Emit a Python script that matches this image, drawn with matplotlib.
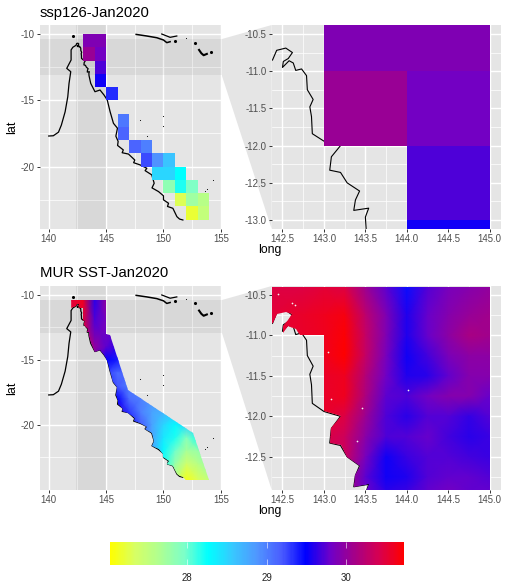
import numpy as np
import matplotlib
matplotlib.use('Agg')
import matplotlib.pyplot as plt
from matplotlib.colors import LinearSegmentedColormap, Normalize
from matplotlib.patches import Polygon
from matplotlib.ticker import FixedLocator

plt.rcParams['font.family'] = ['Liberation Sans', 'DejaVu Sans']

# coastline
coast_long = [140.0,140.4,140.85,141.1,141.43,141.66,141.77,141.92,141.57,141.95,141.95,142.1,142.38,
              142.43,142.54,142.62,142.57,142.51,142.5,142.58,142.63,142.66,142.73,142.79,142.8,142.87,
              142.83,142.85,142.86,143.0,143.2,143.09,143.07,143.2,143.28,143.43,143.38,143.36,143.54,
              143.5,143.51,143.66,144.03,144.47,144.82,145.1,145.35,145.64,145.99,145.85,146.05,146.0,146.5,146.4,146.95,
              147.5,147.4,147.97,148.55,148.4,148.98,149.19,149.0,149.57,150.0,150.0,150.44,150.35,150.82,151.17,151.4,151.69]
coast_lat = [-17.69,-17.67,-17.4,-16.87,-15.86,-14.73,-13.72,-12.84,-12.59,-11.96,-11.2,-11.0,-10.85,
             -10.72,-10.69,-10.75,-10.83,-10.87,-10.95,-10.86,-10.89,-10.99,-10.97,-11.06,-11.25,-11.38,
             -11.48,-11.61,-11.84,-11.94,-12.0,-12.15,-12.33,-12.36,-12.5,-12.61,-12.73,-12.87,-12.84,
             -12.96,-13.13,-13.72,-14.35,-14.22,-14.6,-14.97,-15.86,-16.73,-17.1,-17.7,-18.1,-18.4,-18.74,-18.95,-19.05,
             -19.5,-19.7,-19.87,-20.12,-20.3,-20.62,-21.25,-21.6,-21.88,-22.2,-22.5,-22.76,-23.0,-23.14,-23.77,-23.95,-24.02]
png1_long = [147.62,148.55,149.42,150.0,150.29,150.58]
png1_lat = [-10.03,-10.15,-10.28,-10.45,-10.65,-10.58]
png2_long = [149.85,150.58,151.16]
png2_lat = [-10.0,-10.25,-10.15]
isle_long = [153.1,153.3,153.5,153.78]
isle_lat = [-11.2,-11.45,-11.6,-11.5]
dot_long = [150.0,150.0,147.95,148.55,154.3,153.75,153.6,151.95]
dot_lat = [-16.15,-16.9,-16.5,-17.7,-21.0,-21.7,-21.85,-10.33]
blob_long = [142.09,152.76,154.13,151.0]
blob_lat = [-10.15,-10.65,-11.38,-10.5]

# ssp126 model cells (lower left corner long/lat, 1 degree)
cell_long = [143,143,144,144,144,144,145,146,146,147,148,148,149,150,149,150,151,150,151,152,151,152,153,152,153]
cell_lat = [-11,-12,-11,-12,-13,-14,-15,-17,-18,-19,-19,-20,-20,-20,-21,-21,-21,-22,-22,-22,-23,-23,-23,-24,-24]
cell_val = [29.9,30.03,29.9,29.82,29.7,29.53,29.35,29.05,29.15,29.15,29.0,29.25,28.9,28.6,28.5,28.5,28.27,
            27.85,28.2,27.95,27.3,27.75,27.6,27.2,27.5]

# MUR SST, whole reef
mur_long = [142,143,144,145,146,147,148,149,150,151,152,153,154]
mur_lat = [-10.4,-12,-14,-15,-16,-17,-18,-19,-20,-21,-22,-23,-24.3]
mur_val = [[30.5,30.6,29.6,30.0,30.0,30.0,30.0,30.0,30.0,30.0,30.0,30.0,30.0],
           [30.5,30.5,29.7,29.85,29.8,29.8,29.8,29.8,29.8,29.8,29.8,29.8,29.8],
           [30.4,30.3,30.0,29.75,29.6,29.6,29.6,29.6,29.6,29.6,29.6,29.6,29.6],
           [30.4,30.3,30.0,29.5,29.4,29.4,29.4,29.4,29.4,29.4,29.4,29.4,29.4],
           [30.0,30.0,29.8,29.3,29.1,29.2,29.2,29.2,29.2,29.2,29.2,29.2,29.2],
           [30.0,30.0,29.8,29.4,29.2,29.0,29.0,29.0,29.0,29.0,29.0,29.0,29.0],
           [30.0,30.0,29.8,29.6,29.5,29.1,29.0,28.9,28.8,28.8,28.8,28.8,28.8],
           [30.0,30.0,29.8,29.6,29.6,29.3,29.0,28.8,28.7,28.6,28.6,28.6,28.6],
           [30.0,30.0,29.8,29.6,29.6,29.5,29.2,28.8,28.5,28.3,28.5,28.6,28.6],
           [30.0,30.0,29.8,29.6,29.6,29.5,29.2,28.8,28.4,28.2,27.9,28.2,28.4],
           [30.0,30.0,29.8,29.6,29.6,29.5,29.2,28.8,28.3,28.0,27.7,27.8,28.0],
           [30.0,30.0,29.8,29.6,29.6,29.5,29.2,28.8,28.2,27.8,27.4,27.6,27.8],
           [30.0,30.0,29.8,29.6,29.6,29.5,29.2,28.8,28.2,27.6,27.1,27.3,27.5]]

# MUR SST, zoomed corner
zoom_long = [142.37,142.75,143,143.25,143.5,143.75,144,144.25,144.5,144.75,145]
zoom_lat = [-10.4,-10.75,-11,-11.25,-11.5,-11.75,-12,-12.25,-12.5,-12.75,-12.92]
zoom_val = [[30.45,30.45,30.5,30.45,30.05,29.75,29.45,29.72,29.85,29.92,30.0],
            [30.5,30.55,30.6,30.65,30.25,29.9,29.58,29.78,29.92,30.02,30.08],
            [30.5,30.55,30.6,30.7,30.3,29.9,29.58,29.78,29.97,30.12,30.08],
            [30.5,30.55,30.6,30.72,30.3,29.85,29.53,29.68,29.87,29.97,29.97],
            [30.5,30.5,30.55,30.6,30.2,29.8,29.58,29.6,29.77,29.92,29.92],
            [30.5,30.5,30.55,30.6,30.15,29.75,29.7,29.82,29.92,29.92,29.78],
            [30.5,30.5,30.55,30.45,30.05,29.7,29.6,29.72,29.72,29.63,29.72],
            [30.5,30.5,30.45,30.35,29.95,29.7,29.72,29.78,29.68,29.6,29.65],
            [30.4,30.4,30.4,30.35,29.85,29.53,29.65,29.72,29.72,29.68,29.65],
            [30.3,30.3,30.3,30.2,29.75,29.53,29.57,29.72,29.77,29.77,29.72],
            [30.3,30.3,30.3,30.2,29.8,29.6,29.65,29.77,29.82,29.77,29.77]]

# outline of the MUR data
mask_long = [141.95,145,145,145.35,146.95,152.56,154,152,151.69,151.4,151.17,150.82,150.35,150.44,150.0,150.0,149.57,149.0,149.19,
             148.98,148.4,148.55,147.97,147.4,147.5,146.95,146.4,146.5,146.0,146.05,145.85,145.99,145.64,145.35,145.1,144.82,144.47,144.03,
             143.66,143.51,143.5,143.54,143.36,143.38,143.43,143.28,143.2,143.07,143.09,143.2,143,143,142.71,
             142.66,142.57,142.51,142.51,142.57,142.61,142.54,142.43,142.38,141.95]
mask_lat = [-10.4,-10.4,-13,-13.05,-17.3,-20.6,-24.25,-24.25,-24.02,-23.95,-23.77,-23.14,-23.0,-22.76,-22.5,-22.2,-21.88,-21.6,-21.25,
            -20.62,-20.3,-20.12,-19.87,-19.7,-19.5,-19.05,-18.95,-18.74,-18.4,-18.1,-17.7,-17.1,-16.73,-15.86,-14.97,-14.6,-14.22,-14.35,
            -13.72,-13.13,-12.96,-12.84,-12.87,-12.73,-12.61,-12.5,-12.36,-12.33,-12.15,-12.0,-11.94,-11.0,-11.0,
            -10.92,-10.88,-10.97,-10.89,-10.81,-10.73,-10.71,-10.73,-10.85,-11.0]
speck_long = [142.45,142.65,142.62,143.05,144.02,143.46,143.4,143.09]
speck_lat = [-10.49,-10.63,-10.6,-11.2,-11.67,-11.9,-12.3,-11.78]

# colour scale
scale_min = 27.04
scale_max = 30.72
scale_colors = ['#FFFF00','#D7FF64','#AFFF91','#7DFFC8','#00FFFF','#38C8FF','#5096FF','#4A5CFF','#0000FF',
                '#6E00C8','#A50087','#D70050','#FF0000']
bar_ticks = [28,29,30]

over_xticks = [140,145,150,155]
over_yticks = [-10,-15,-20]
zoom_xticks = [142.5,143.0,143.5,144.0,144.5,145.0]
zoom_yticks1 = [-10.5,-11.0,-11.5,-12.0,-12.5,-13.0]
zoom_yticks2 = [-10.5,-11.0,-11.5,-12.0,-12.5]

W,H = 505,582
cmap = LinearSegmentedColormap.from_list('sst',scale_colors)
norm = Normalize(scale_min,scale_max)

fig = plt.figure(figsize=(W/100,H/100),dpi=100)

def px_axes(x0,y0,x1,y1):
    return fig.add_axes([x0/W,1-y1/H,(x1-x0)/W,(y1-y0)/H])

def connector(y_a,y_b,y_top,y_bot):
    # grey wedge joining the zoom band to the zoom panel
    pts = [(222/W,1-y_a/H),(271.7/W,1-y_top/H),(271.7/W,1-y_bot/H),(222/W,1-y_b/H)]
    fig.patches.append(Polygon(pts,closed=True,transform=fig.transFigure,fc='#E5E5E5',ec='none',zorder=-1))

def style(ax,xlim,ylim,xticks,yticks,xminor,yminor):
    ax.set_facecolor('#E5E5E5')
    ax.set_xlim(xlim)
    ax.set_ylim(ylim)
    ax.set_xticks(xticks)
    ax.set_yticks(yticks)
    ax.xaxis.set_minor_locator(FixedLocator(xminor))
    ax.yaxis.set_minor_locator(FixedLocator(yminor))
    ax.set_xticklabels([str(t) for t in xticks])
    ax.set_yticklabels([str(t) for t in yticks])
    ax.grid(which='major',color='white',lw=1.0)
    ax.grid(which='minor',color='white',lw=0.5)
    ax.set_axisbelow(True)
    ax.tick_params(which='major',length=2.2,width=0.7,color='#333333',labelcolor='#4D4D4D',labelsize=6.9,pad=1.5)
    ax.tick_params(which='minor',length=0)
    for s in ax.spines.values():
        s.set_visible(False)

def draw_coast(ax,lw):
    ax.plot(coast_long,coast_lat,color='black',lw=lw,zorder=2)

def draw_extras(ax):
    ax.plot(png1_long,png1_lat,color='black',lw=1.1,zorder=2)
    ax.plot(png2_long,png2_lat,color='black',lw=0.9,zorder=2)
    ax.plot(isle_long,isle_lat,color='black',lw=1.5,zorder=2)
    ax.scatter(dot_long,dot_lat,s=0.6,color='black',lw=0,zorder=2)
    ax.scatter(blob_long,blob_lat,s=5,color='black',lw=0,zorder=2)

def draw_cells(ax):
    xs = np.arange(143,155)
    ys = np.arange(-24,-9)
    grid = np.full((len(ys)-1,len(xs)-1),np.nan)
    for lo,la,v in zip(cell_long,cell_lat,cell_val):
        grid[int(la)+24,int(lo)-143] = v
    ax.pcolormesh(xs,ys,np.ma.masked_invalid(grid),cmap=cmap,norm=norm,zorder=3,lw=0,rasterized=True)

def draw_mur(ax,xs,ys,vals):
    m = ax.pcolormesh(xs,ys,np.array(vals),cmap=cmap,norm=norm,shading='gouraud',zorder=3)
    clip = Polygon(np.column_stack([mask_long,mask_lat]),closed=True,transform=ax.transData)
    m.set_clip_path(clip)

def bands(ax,xlim,ylim):
    ax.axvspan(xlim[0],xlim[1],color='black',alpha=0.055,lw=0,zorder=1)
    ax.axhspan(ylim[0],ylim[1],color='black',alpha=0.055,lw=0,zorder=1)

over_minor_x = [142.5,147.5,152.5]
over_minor_y = [-12.5,-17.5,-22.5]
zoom_minor_x = [142.75,143.25,143.75,144.25,144.75]
zoom_minor_y1 = [-10.75,-11.25,-11.75,-12.25,-12.75]
zoom_minor_y2 = [-10.75,-11.25,-11.75,-12.25,-12.75]

# top row
connector(39,76,25,229)
ax1 = px_axes(40,25,222,229)
style(ax1,(139.24,155.1),(-24.7,-9.32),over_xticks,over_yticks,over_minor_x,over_minor_y)
bands(ax1,(142.37,145.0),(-13.12,-10.38))
draw_coast(ax1,0.9)
draw_extras(ax1)
draw_cells(ax1)

ax2 = px_axes(271.7,25,501,229)
style(ax2,(142.37,145.136),(-13.12,-10.38),zoom_xticks,zoom_yticks1,zoom_minor_x,zoom_minor_y1)
draw_coast(ax2,0.8)
draw_cells(ax2)

# bottom row
connector(300,333,286,490)
ax3 = px_axes(40,286,222,490)
style(ax3,(139.24,155.1),(-25.0,-9.31),over_xticks,over_yticks,over_minor_x,over_minor_y)
bands(ax3,(142.37,145.0),(-12.91,-10.39))
draw_coast(ax3,0.9)
draw_extras(ax3)
draw_mur(ax3,mur_long,mur_lat,mur_val)

ax4 = px_axes(271.7,286,501,490)
style(ax4,(142.37,145.136),(-12.91,-10.39),zoom_xticks,zoom_yticks2,zoom_minor_x,zoom_minor_y2)
draw_coast(ax4,0.8)
draw_mur(ax4,zoom_long,zoom_lat,zoom_val)
ax4.scatter(speck_long,speck_lat,s=1.5,color='#F2F2F2',lw=0,zorder=4)

fig.text(40/W,1-13/H,'ssp126-Jan2020',fontsize=10.7,va='center',ha='left')
fig.text(40/W,1-273/H,'MUR SST-Jan2020',fontsize=10.7,va='center',ha='left')
fig.text(12/W,1-127/H,'lat',fontsize=9,rotation=90,va='center',ha='center')
fig.text(12/W,1-388/H,'lat',fontsize=9,rotation=90,va='center',ha='center')
fig.text(270/W,1-250/H,'long',fontsize=8.8,va='center',ha='center')
fig.text(270/W,1-511/H,'long',fontsize=8.8,va='center',ha='center')

# colour bar
cax = px_axes(110,541.7,404,565)
cb = fig.colorbar(plt.cm.ScalarMappable(norm=norm,cmap=cmap),cax=cax,orientation='horizontal')
cb.set_ticks(bar_ticks)
cb.outline.set_visible(False)
cax.tick_params(axis='x',which='major',direction='in',top=True,bottom=True,length=4.5,width=0.4,color='white',
                labelsize=6.9,labelcolor='#222222',pad=6)

fig.savefig('out.png',dpi=100)
